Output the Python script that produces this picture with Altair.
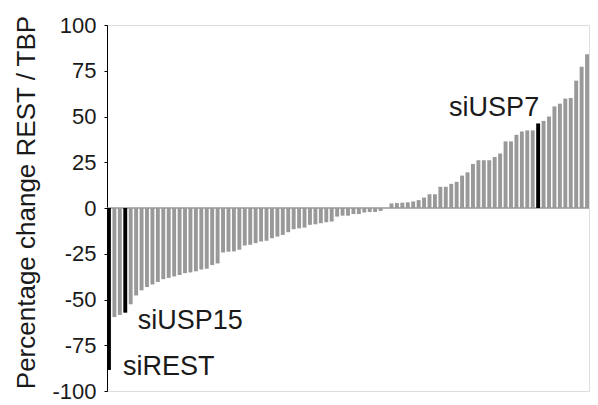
import altair as alt
import pandas as pd

# Bar values (percentage change REST / TBP), sorted
values = [
    -88.5, -59.6, -58.4, -57.2, -52.6, -47.8, -45.0, -43.2, -41.8, -40.4,
    -38.9, -38.2, -37.4, -36.6, -35.6, -35.2, -34.6, -33.6, -33.2, -31.2,
    -30.3, -24.3, -23.9, -23.7, -22.8, -20.5, -20.1, -19.2, -18.3, -17.9,
    -16.5, -15.6, -14.7, -13.2, -11.6, -11.1, -10.7, -9.2, -8.9, -8.3,
    -7.8, -7.4, -4.7, -4.2, -4.2, -3.3, -3.3, -2.5, -2.2, -2.2,
    -1.6, 0.0, 2.5, 2.7, 2.9, 3.1, 3.6, 4.3, 5.7, 7.5,
    7.5, 11.6, 11.6, 13.2, 14.3, 17.7, 19.5, 24.1, 26.1, 26.1,
    26.1, 27.9, 29.8, 36.4, 36.4, 40.0, 41.8, 42.4, 42.4, 46.2,
    47.6, 50.0, 55.5, 57.0, 59.8, 60.1, 69.6, 77.2, 84.0,
]
idx = list(range(1, len(values) + 1))

# Highlighted siRNAs
hl_idx = [1, 4, 80]
hl_text = ["siREST", "siUSP15", "siUSP7"]
hl_label_value = [-91.3, -66.3, 50.5]

y_ticks = [-100, -75, -50, -25, 0, 25, 50, 75, 100]

df = pd.DataFrame({
    "idx": idx,
    "value": values,
    "kind": ["hi" if i in hl_idx else "lo" for i in idx],
})
lab = pd.DataFrame({"idx": hl_idx, "label": hl_text, "value": hl_label_value})

FONT = "Liberation Sans"

x_enc = alt.X("idx:O", axis=None,
              scale=alt.Scale(domain=idx, paddingInner=0.28, paddingOuter=0))
y_scale = alt.Scale(domain=[-100, 100], nice=False, zero=False)

bars = alt.Chart(df).mark_bar().encode(
    x=x_enc,
    y=alt.Y("value:Q", scale=y_scale,
            axis=alt.Axis(values=y_ticks, grid=False, domainColor="#000000",
                          domainWidth=1, tickColor="#000000", tickSize=3,
                          labelFontSize=22, labelFont=FONT, labelColor="#1a1a1a",
                          labelPadding=8, labelOverlap=False,
                          labelExpr="'' + datum.value",
                          title="Percentage change REST / TBP",
                          titleFont=FONT, titleFontSize=26, titleFontWeight="normal",
                          titleColor="#1a1a1a", titleAngle=270, titleAlign="center",
                          titleBaseline="alphabetic", titleX=-73, titleY=177)),
    color=alt.Color("kind:N", legend=None,
                    scale=alt.Scale(domain=["lo", "hi"], range=["#999999", "#000000"])),
)

zero = alt.Chart(pd.DataFrame({"v": [0]})).mark_rule(
    color="#999999", strokeWidth=1.5
).encode(y=alt.Y("v:Q", scale=y_scale))


def label_layer(name, align, dx):
    return alt.Chart(lab[lab["label"] == name]).mark_text(
        align=align, baseline="alphabetic", fontSize=27, font=FONT,
        color="#1a1a1a", dx=dx
    ).encode(x=x_enc, y=alt.Y("value:Q", scale=y_scale), text="label:N")


chart = alt.layer(
    zero, bars,
    label_layer("siREST", "left", 14),
    label_layer("siUSP15", "left", 12.5),
    label_layer("siUSP7", "right", 1),
).properties(
    width=482, height=366,
    autosize=alt.AutoSizeParams(type="none"),
    padding={"left": 99, "top": 17, "right": 1, "bottom": 14},
).configure_view(stroke=None).configure(background="white")

chart.save("out.html", embed_options={"renderer": "svg", "actions": False})
